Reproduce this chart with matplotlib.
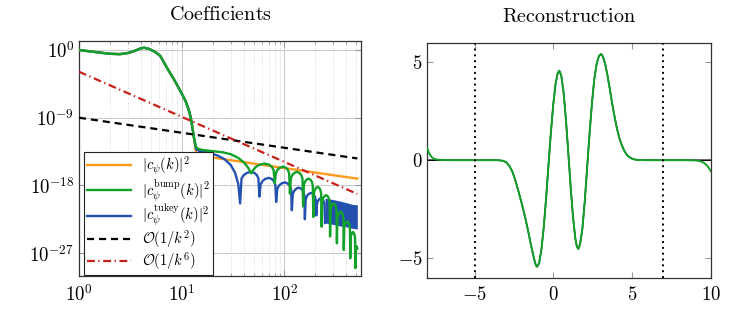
import numpy as np
import matplotlib.pyplot as plt
from matplotlib.ticker import LogLocator, NullFormatter, FixedLocator

plt.rcParams['mathtext.fontset'] = 'cm'
plt.rcParams['font.family'] = 'serif'
plt.rcParams['font.serif'] = ['DejaVu Serif']

# --- left panel: coefficients (k, log10 of value) ---
# part shared by all three curves
head_k = [1, 1.5, 2, 2.5, 3, 3.5, 4, 4.3, 4.8, 5.5, 6.2, 6.8, 7.5, 8.4, 9.3,
          10.2, 10.9, 11.6, 12.2, 12.7, 13.2]
head_v = [0.0, -0.3, -0.5, -0.55, -0.4, -0.1, 0.22, 0.3, 0.15, -0.25, -0.8,
          -1.8, -2.8, -3.9, -5.0, -6.0, -6.8, -7.8, -8.9, -10.3, -11.8]

orange_k = [13.8, 14.5, 16, 20, 30, 50, 100, 200, 300, 512]
orange_v = [-13.7, -13.95, -14.1, -14.3, -14.65, -15.1, -15.7, -16.3, -16.65, -17.1]

green_k = [13.8, 14.5, 16, 20, 25, 30, 35, 40, 44, 47.5,
           49.5, 52.45, 57.4, 64.0, 70.6, 75.55, 78.5, 80.5,
           82.45, 85.4, 90.25, 96.75, 103.25, 108.1, 111.05, 113,
           115.35, 118.85, 124.7, 132.5, 140.3, 146.15, 149.65, 152,
           154.35, 157.85, 163.7, 171.5, 179.3, 185.15, 188.65, 191,
           193.35, 196.85, 202.7, 210.5, 218.3, 224.15, 227.65, 230,
           232.9, 237.2, 244.4, 254, 263.6, 270.8, 275.1, 278,
           280.75, 284.9, 291.8, 301, 310.2, 317.1, 321.25, 324,
           327.25, 332.1, 340.2, 351, 361.8, 369.9, 374.75, 378,
           381.55, 386.85, 395.7, 407.5, 419.3, 428.15, 433.45, 437,
           440.2, 444.95, 452.9, 463.5, 474.1, 482.05, 486.8, 490,
           496, 504, 512]
green_v = [-12.9, -13.15, -13.3, -13.45, -13.6, -13.85, -14.3, -14.9, -15.6, -16.4,
           -16.0, -15.55, -15.25, -15.1, -15.25, -15.55, -16.0, -17.7,
           -16.4, -15.95, -15.65, -15.5, -15.65, -15.95, -16.4, -19.1,
           -17.1, -16.65, -16.35, -16.2, -16.35, -16.65, -17.1, -20.8,
           -18.0, -17.55, -17.25, -17.1, -17.25, -17.55, -18.0, -22.2,
           -19.1, -18.65, -18.35, -18.2, -18.35, -18.65, -19.1, -23.5,
           -20.2, -19.75, -19.45, -19.3, -19.45, -19.75, -20.2, -24.8,
           -21.3, -20.85, -20.55, -20.4, -20.55, -20.85, -21.3, -25.7,
           -22.4, -21.95, -21.65, -21.5, -21.65, -21.95, -22.4, -26.6,
           -23.7, -23.25, -22.95, -22.8, -22.95, -23.25, -23.7, -27.7,
           -25.1, -24.65, -24.35, -24.2, -24.35, -24.65, -25.1, -29.0,
           -26.6, -26.1, -26.4]

blue_k = [13.8, 15, 18, 22, 26, 30, 33, 35.5, 37,
          38.2, 40, 43, 47, 51, 54, 55.8, 57,
          58.56, 60.9, 64.8, 70, 75.2, 79.1, 81.44, 83,
          85.1, 88.25, 93.5, 100.5, 107.5, 112.75, 115.9, 118,
          120.4, 124, 130, 138, 146, 152, 155.6, 158,
          160.76, 164.9, 171.8, 181, 190.2, 197.1, 201.24, 204,
          206.64, 210.6, 217.2, 226, 234.8, 241.4, 245.36, 248]
blue_v = [-13.2, -13.45, -13.65, -14.0, -14.5, -15.3, -16.3, -17.8, -20.4,
          -17.1, -16.65, -16.35, -16.2, -16.35, -16.65, -17.1, -19.5,
          -17.9, -17.45, -17.15, -17.0, -17.15, -17.45, -17.9, -20.2,
          -18.5, -18.05, -17.75, -17.6, -17.75, -18.05, -18.5, -21.3,
          -19.2, -18.75, -18.45, -18.3, -18.45, -18.75, -19.2, -22.5,
          -19.9, -19.45, -19.15, -19.0, -19.15, -19.45, -19.9, -22.0,
          -20.6, -20.15, -19.85, -19.7, -19.85, -20.15, -20.6, -23.0]
# dense oscillating tail of the tukey coefficients
band_k = [248, 300, 350, 400, 450, 512]
band_top = [-19.7, -19.9, -20.1, -20.3, -20.5, -20.6]
band_bot = [-23.0, -23.2, -23.4, -23.5, -23.7, -23.8]

ref2_k = [1, 512]
ref2_v = [1e-9, 3.8e-15]
ref6_k = [1, 512]
ref6_v = [1.3e-3, 7.2e-20]

# --- right panel: reconstruction ---
x_rec = [-8.0, -7.9, -7.8, -7.7, -7.6, -7.4, -7.0, -6.5, -5.0, -4.0, -3.6, -3.4,
         -3.2, -3.0, -2.8, -2.6, -2.4, -2.2, -2.0, -1.8, -1.6, -1.45, -1.3,
         -1.17, -1.08, -1.02, -0.9, -0.75, -0.6, -0.45, -0.3, -0.15, 0.0, 0.15,
         0.28, 0.38, 0.5, 0.65, 0.8, 0.95, 1.1, 1.25, 1.4, 1.5, 1.59, 1.7, 1.85,
         2.0, 2.15, 2.3, 2.45, 2.6, 2.75, 2.9, 3.04, 3.15, 3.3, 3.45, 3.6, 3.75,
         3.9, 4.05, 4.2, 4.35, 4.5, 4.65, 4.8, 5.0, 5.2, 5.5, 6.0, 8.5, 9.0, 9.2,
         9.4, 9.6, 9.8, 10.0]
y_rec = [0.60, 0.38, 0.24, 0.14, 0.08, 0.03, 0.01, 0.0, 0.0, 0.0, 0.0, -0.01,
         -0.03, -0.10, -0.28, -0.58, -1.05, -1.62, -2.22, -2.87, -3.6, -4.2, -4.75,
         -5.2, -5.4, -5.44, -5.26, -4.55, -3.38, -1.88, -0.21, 1.43, 2.85, 3.92,
         4.44, 4.57, 4.35, 3.50, 2.12, 0.43, -1.32, -2.87, -3.99, -4.41, -4.53, -4.3, -3.5,
         -2.1, -0.4, 1.3, 2.85, 4.1, 4.9, 5.32, 5.42, 5.30, 4.9, 4.3, 3.6, 2.85,
         2.2, 1.6, 1.12, 0.78, 0.5, 0.3, 0.18, 0.08, 0.03, 0.01, 0.0, 0.0, -0.01, -0.03,
         -0.07, -0.15, -0.3, -0.55]
support = [-5, 7]

c_orange = '#ff9a1c'
c_green = '#12a22a'
c_blue = '#2451b0'
c_red = '#c8201a'

fig = plt.figure(figsize=(7.41, 3.16), dpi=100)
ax1 = fig.add_axes([0.1066, 0.1266, 0.3806, 0.7437])
ax2 = fig.add_axes([0.5767, 0.1212, 0.3824, 0.7437])

lw = 1.7
ho = np.array(head_k + orange_k)
hb = np.array(head_k + blue_k)
hg = np.array(head_k + green_k)
l_or, = ax1.plot(ho, 10 ** np.array(head_v + orange_v), color=c_orange, lw=lw, zorder=3)
l_bl, = ax1.plot(hb, 10 ** np.array(head_v + blue_v), color=c_blue, lw=lw, zorder=4)
ax1.fill_between(band_k, 10 ** np.array(band_bot), 10 ** np.array(band_top),
                 color=c_blue, lw=0, zorder=4)
l_gr, = ax1.plot(hg, 10 ** np.array(head_v + green_v), color=c_green, lw=lw, zorder=5)
l_k2, = ax1.plot(ref2_k, ref2_v, color='black', lw=1.6, ls=(0, (3.2, 2.2)), zorder=6)
l_k6, = ax1.plot(ref6_k, ref6_v, color=c_red, lw=1.6, ls=(0, (3.5, 1.6, 0.6, 1.6)), zorder=6)

ax1.set_xscale('log')
ax1.set_yscale('log')
ax1.set_xlim(1, 556)
ax1.set_ylim(10 ** -30.05, 10 ** 1.2)
ax1.xaxis.set_major_locator(FixedLocator([1, 10, 100]))
ax1.set_xticklabels([r'$10^{0}$', r'$10^{1}$', r'$10^{2}$'])
ax1.xaxis.set_minor_locator(LogLocator(base=10, subs=np.arange(2, 10)))
ax1.xaxis.set_minor_formatter(NullFormatter())
ax1.yaxis.set_major_locator(FixedLocator([1e0, 1e-9, 1e-18, 1e-27]))
ax1.set_yticklabels([r'$10^{0}$', r'$10^{-9}$', r'$10^{-18}$', r'$10^{-27}$'])
ax1.yaxis.set_minor_locator(FixedLocator([]))
ax1.grid(True, which='major', color='#c8c8c8', lw=0.7)
ax1.grid(True, which='minor', axis='x', color='#cccccc', lw=0.6, ls=(0, (1, 2)))
ax1.set_axisbelow(True)
ax1.set_title(r'$\mathrm{Coefficients}$', fontsize=14.5, pad=15)

leg = ax1.legend([l_or, l_gr, l_bl, l_k2, l_k6],
                 [r'$|c_\psi(k)|^2$', r'$|c_\psi^{\mathrm{bump}}(k)|^2$',
                  r'$|c_\psi^{\mathrm{tukey}}(k)|^2$', r'$\mathcal{O}(1/k^2)$',
                  r'$\mathcal{O}(1/k^6)$'],
                 loc='upper left', bbox_to_anchor=(0.018, 0.527), fontsize=10.5,
                 handlelength=3.0, fancybox=False, framealpha=1, borderpad=0.2,
                 labelspacing=0.0, handletextpad=0.75, borderaxespad=0)
leg.get_frame().set_edgecolor('#222222')
leg.get_frame().set_linewidth(0.8)
leg.set_zorder(10)

# right panel
x_arr = np.array(x_rec)
y_arr = np.array(y_rec)
y_orig = np.where((x_arr > -7.0) & (x_arr < 9.0), y_arr, 0.0)
ax2.plot(x_arr, y_orig, color='black', lw=1.1, zorder=2)
ax2.plot(x_arr, y_arr, color=c_green, lw=1.4, zorder=3)
for xs in support:
    ax2.axvline(xs, color='black', lw=1.4, ls=(0, (1, 2)), zorder=4)
ax2.set_xlim(-8, 10)
ax2.set_ylim(-6, 6)
ax2.set_xticks([-5, 0, 5, 10])
ax2.set_xticklabels([r'$-5$', r'$0$', r'$5$', r'$10$'])
ax2.set_yticks([-5, 0, 5])
ax2.set_yticklabels([r'$-5$', r'$0$', r'$5$'])
ax2.set_title(r'$\mathrm{Reconstruction}$', fontsize=14.5, pad=15)

for ax in (ax1, ax2):
    ax.tick_params(which='both', direction='in', top=True, right=True,
                   labelsize=13.5, color='#999999')
    ax.tick_params(which='major', length=4)
    ax.tick_params(which='minor', length=2.5)
    ax.tick_params(axis='x', pad=6)
    for s in ax.spines.values():
        s.set_color('#333333')
        s.set_linewidth(0.9)

fig.savefig('out.png', dpi=100)
